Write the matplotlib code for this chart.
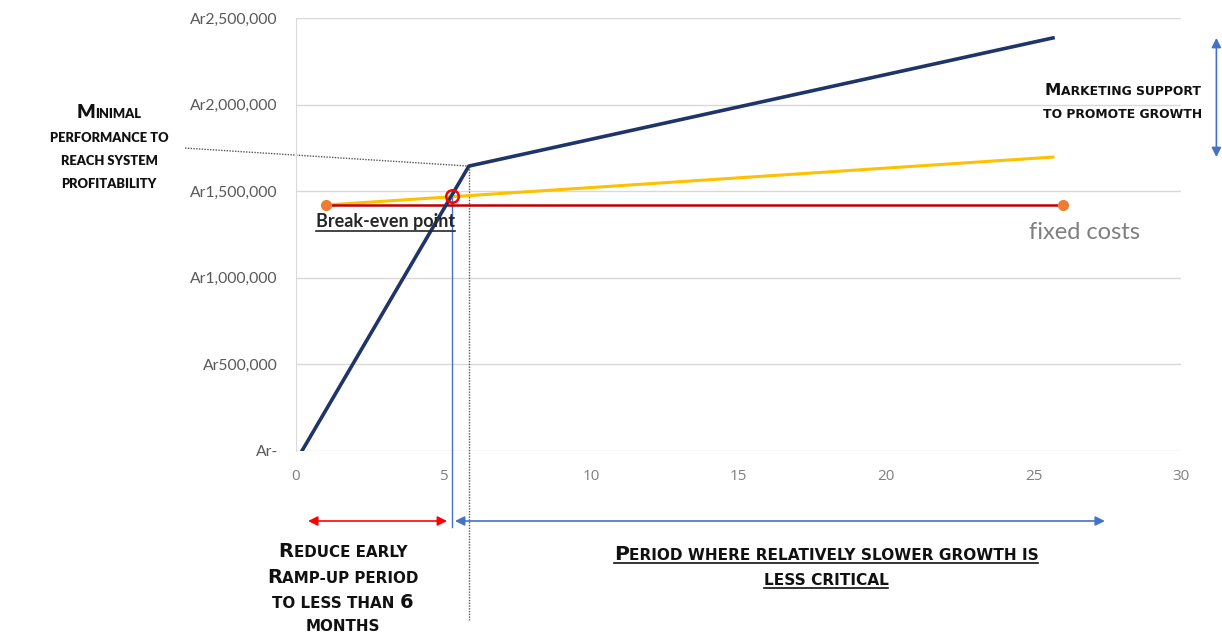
import numpy as np
import matplotlib
matplotlib.use('Agg')
import matplotlib.pyplot as plt
from matplotlib.lines import Line2D
from matplotlib.ticker import FuncFormatter

""" DATOS """
# ingresos acumulados (linea azul) y referencia (linea amarilla)
months_rev = [0.2, 5.86, 25.66]
revenue = [0, 1645000, 2385000]
months_ref = [1.0, 25.66]
reference = [1420000, 1697000]
# costos fijos
months_fix = [1.0, 26.0]
fixed_costs = [1420000, 1420000]
# punto de equilibrio
be_month = 5.3
be_value = 1470000

y_ticks = [0, 500000, 1000000, 1500000, 2000000, 2500000]
x_ticks = [0, 5, 10, 15, 20, 25, 30]

W, H = 1222, 633
fig = plt.figure(figsize=(W / 100, H / 100), dpi=100)
ax = fig.add_axes([296 / W, 1 - 451 / H, 885 / W, 433 / H])

NAVY = '#1f3468'
GOLD = '#ffc000'
RED = '#c00000'
ORANGE = '#ed7d31'
BLUE = '#4472c4'

ax.plot(months_ref, reference, color=GOLD, lw=2.2, zorder=3)
ax.plot(months_fix, fixed_costs, color=RED, lw=1.8, zorder=3)
ax.plot(months_fix, fixed_costs, 'o', color=ORANGE, ms=7, zorder=5)
ax.plot(months_rev, revenue, color=NAVY, lw=2.6, zorder=4)
ax.plot([be_month], [be_value], 'o', ms=9, mfc='none', mec='#ff0000', mew=1.8, zorder=6)

ax.set_xlim(0, 30)
ax.set_ylim(0, 2500000)
ax.set_xticks(x_ticks)
ax.set_yticks(y_ticks)
ax.yaxis.set_major_formatter(FuncFormatter(lambda v, p: 'Ar-' if v == 0 else 'Ar{:,.0f}'.format(v)))
ax.grid(axis='y', color='#d9d9d9', lw=1)
ax.set_axisbelow(True)
for s in ['top', 'right', 'bottom']:
    ax.spines[s].set_visible(False)
ax.spines['left'].set_color('#d9d9d9')
ax.tick_params(length=0)
ax.tick_params(axis='y', pad=13, labelsize=11.3, labelcolor='#595959')
ax.tick_params(axis='x', pad=13, labelsize=11, labelcolor='#7f7f7f')
for lab in ax.get_yticklabels():
    lab.set_fontfamily('Lato')
for lab in ax.get_xticklabels():
    lab.set_fontfamily('Open Sans')

# lineas guia punteadas y verticales
y_arrow = (451 - 521) / 173.2 * 1e6
ax.plot([months_rev[1], months_rev[1]], [revenue[1], -976000], color='#555555', lw=1, ls=(0, (1, 1)), clip_on=False, zorder=2)
ax.plot([-3.76, months_rev[1]], [1749000, revenue[1]], color='#555555', lw=1, ls=(0, (1, 1)), clip_on=False, zorder=2)
ax.plot([be_month, be_month], [be_value, -440000], color=BLUE, lw=1, clip_on=False, zorder=2)

# flechas de periodos
arrow = dict(arrowstyle='<|-|>', lw=1.2, mutation_scale=14, shrinkA=0, shrinkB=0)
ax.annotate('', xy=(0.41, y_arrow), xytext=(5.12, y_arrow), annotation_clip=False,
            arrowprops=dict(arrow, color='#ff0000'))
ax.annotate('', xy=(5.39, y_arrow), xytext=(27.42, y_arrow), annotation_clip=False,
            arrowprops=dict(arrow, color=BLUE))
ax.annotate('', xy=(31.2, revenue[2]), xytext=(31.2, reference[1]), annotation_clip=False,
            arrowprops=dict(arrow, color=BLUE))

renderer = fig.canvas.get_renderer()


def px(x, y):
    return x / W, 1 - y / H


def smallcaps(xc, yb, s, big, small, family='DejaVu Sans', weight='bold', underline=False):
    # mayusculas y digitos grandes, el resto en versalitas
    runs = []
    for ch in s:
        is_big = ch.isupper() or ch.isdigit()
        if runs and runs[-1][1] == is_big:
            runs[-1][0] += ch
        else:
            runs.append([ch, is_big])
    texts = []
    total = 0
    for txt, is_big in runs:
        t = fig.text(0, 0, txt.upper(), fontsize=big if is_big else small, fontfamily=family,
                     fontweight=weight, color='#111111', va='baseline', ha='left')
        w = t.get_window_extent(renderer).width
        texts.append((t, w))
        total += w
    x = xc - total / 2
    for t, w in texts:
        t.set_position(px(x, yb))
        x += w
    if underline:
        fig.add_artist(Line2D([(xc - total / 2) / W, (xc + total / 2) / W], [1 - (yb + 3) / H] * 2,
                              color='#111111', lw=1.2))


for i, line in enumerate(['Minimal', 'performance to', 'reach system', 'profitability']):
    smallcaps(109, [118, 142, 165, 188][i], line, 14, 9.3, family='Lato', weight='heavy')
for i, line in enumerate(['Marketing support', 'to promote growth']):
    smallcaps(1123, [95, 118][i], line, 11.8, 8.9)
for i, line in enumerate(['Reduce early', 'Ramp-up period', 'to less than 6', 'months']):
    smallcaps(343, [557, 583, 608, 631][i], line, 14, 10.9)
for i, line in enumerate(['Period where relatively slower growth is', 'less critical']):
    smallcaps(826, [560, 585][i], line, 14.7, 11.1, underline=True)

# etiqueta del punto de equilibrio
be = fig.text(*px(316, 227), 'Break-even point', fontsize=13, fontfamily='Lato', fontweight='bold',
              color='#262626', va='baseline', ha='left')
bw = be.get_window_extent(renderer).width
fig.add_artist(Line2D([316 / W, (316 + bw) / W], [1 - 231 / H] * 2, color='#262626', lw=1.2))

fig.text(*px(1029, 239), 'fixed costs', fontsize=17, fontfamily='Lato', color='#7f7f7f',
         va='baseline', ha='left')

fig.savefig('out.png', dpi=100)
